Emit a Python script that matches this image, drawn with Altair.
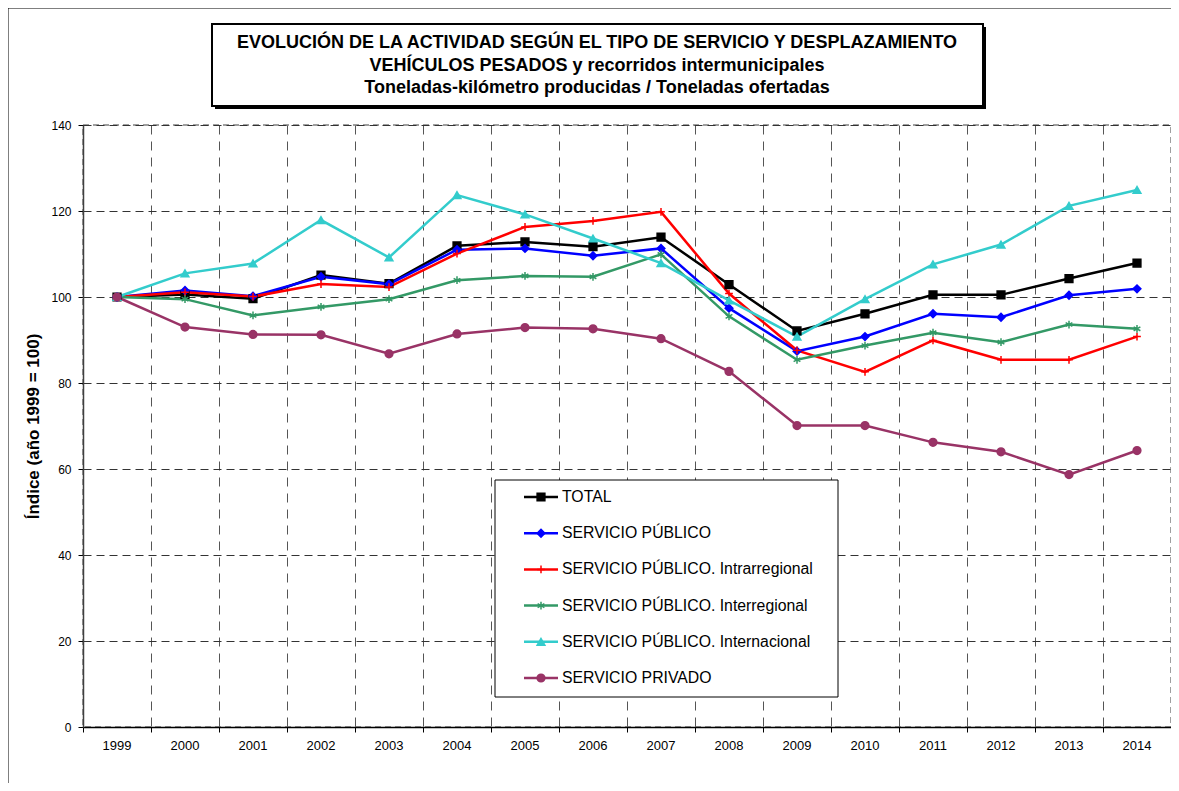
import altair as alt
import pandas as pd

years = [str(y) for y in range(1999, 2015)]
series_names = [
    "TOTAL",
    "SERVICIO PÚBLICO",
    "SERVICIO PÚBLICO. Intrarregional",
    "SERVICIO PÚBLICO. Interregional",
    "SERVICIO PÚBLICO. Internacional",
    "SERVICIO PRIVADO",
]
total = [100, 100.6, 99.6, 105.1, 103.1, 111.9, 112.8, 111.7, 113.9, 102.9, 92.1, 96.1, 100.5, 100.5, 104.3, 107.9]
publico = [100, 101.5, 100.2, 104.7, 103.0, 111.0, 111.3, 109.6, 111.3, 97.4, 87.4, 90.8, 96.1, 95.3, 100.4, 101.9]
intrarregional = [100, 101.1, 100.1, 103.0, 102.3, 110.1, 116.3, 117.7, 119.8, 100.8, 87.6, 82.6, 89.9, 85.4, 85.4, 90.8]
interregional = [100, 99.5, 95.7, 97.7, 99.5, 103.9, 104.9, 104.7, 109.9, 95.5, 85.4, 88.7, 91.7, 89.5, 93.6, 92.6]
internacional = [100, 105.5, 107.8, 117.9, 109.2, 123.7, 119.2, 113.6, 107.9, 99.2, 90.8, 99.5, 107.6, 112.2, 121.2, 124.9]
privado = [100, 93.0, 91.3, 91.2, 86.8, 91.4, 92.9, 92.6, 90.3, 82.7, 70.1, 70.1, 66.2, 64.0, 58.7, 64.3]

series_colors = ["#000000", "#0000FF", "#FF0000", "#339966", "#33CCCC", "#993366"]
series_shapes = [
    "square",
    "diamond",
    "M-1,0H1M0,-1V1",
    "M0,-1V1M-0.87,-0.5L0.87,0.5M-0.87,0.5L0.87,-0.5",
    "triangle-up",
    "circle",
]
title_lines = [
    "EVOLUCIÓN DE LA ACTIVIDAD SEGÚN EL TIPO DE SERVICIO Y DESPLAZAMIENTO",
    "VEHÍCULOS PESADOS y recorridos intermunicipales",
    "Toneladas-kilómetro producidas / Toneladas ofertadas",
]
y_title = "Índice (año 1999 = 100)"
y_ticks = [0, 20, 40, 60, 80, 100, 120, 140]

all_values = [total, publico, intrarregional, interregional, internacional, privado]
rows = []
for k, (name, vals) in enumerate(zip(series_names, all_values)):
    for yr, v in zip(years, vals):
        rows.append({"year": yr, "value": v, "series": name, "k": k})
df = pd.DataFrame(rows)

W, H = 1088, 602
FONT = "Liberation Sans"

color_scale = alt.Scale(domain=series_names, range=series_colors)
shape_scale = alt.Scale(domain=series_names, range=series_shapes)
x_scale = alt.Scale(type="band", domain=years, paddingInner=0, paddingOuter=0)
y_scale = alt.Scale(domain=[0, 140])

x_axis = alt.Axis(
    bandPosition=0, labelAngle=0, tickSize=5,
    grid=True, gridDash=[9, 7], gridColor="#555555", gridWidth=1,
    domainColor="#000000", domainWidth=1.5, tickColor="#000000",
    labelFontSize=13, labelPadding=7, labelColor="#000000",
)
y_axis = alt.Axis(
    values=y_ticks, tickSize=5, labelPadding=7, labelFontSize=12, labelColor="#000000",
    grid=True, gridDash=[8, 5], gridColor="#333333", gridWidth=1,
    domainColor="#404040", domainWidth=1.5, tickColor="#000000",
    titleFontSize=17, titleFontWeight="bold", titleColor="#000000",
    titleAngle=270, titleX=-50, titleY=H / 2, titleAlign="center", titleBaseline="middle",
)

one = pd.DataFrame({"a": [0]})

frame = alt.Chart(one).mark_rect(filled=False, stroke="#000000", strokeWidth=1).encode(
    x=alt.value(-75), x2=alt.value(W + 60), y=alt.value(-117), y2=alt.value(H + 120)
)
shadow = alt.Chart(one).mark_rect(color="#000000").encode(
    x=alt.value(132), x2=alt.value(903), y=alt.value(-98), y2=alt.value(-16)
)
title_box = alt.Chart(one).mark_rect(fill="#FFFFFF", stroke="#000000", strokeWidth=2).encode(
    x=alt.value(129), x2=alt.value(900), y=alt.value(-101), y2=alt.value(-19)
)
title_ys = [-82, -59, -37]
title_texts = [
    alt.Chart(pd.DataFrame({"t": [line]})).mark_text(
        font=FONT, fontSize=18, fontWeight="bold", align="center", baseline="middle", color="#000000"
    ).encode(x=alt.value(514), y=alt.value(ty), text="t:N")
    for line, ty in zip(title_lines, title_ys)
]

lines = alt.Chart(df).mark_line(strokeWidth=2.5).encode(
    x=alt.X("year:O", scale=x_scale, bandPosition=0.5, axis=x_axis, title=None),
    y=alt.Y("value:Q", scale=y_scale, axis=y_axis, title=y_title),
    color=alt.Color("series:N", scale=color_scale, legend=None),
    detail="k:O",
)
points = alt.Chart(df).mark_point(filled=True, size=60, strokeWidth=1.5, opacity=1).encode(
    x=alt.X("year:O", scale=x_scale, bandPosition=0.5, axis=x_axis, title=None),
    y=alt.Y("value:Q", scale=y_scale, axis=None),
    color=alt.Color("series:N", scale=color_scale, legend=None),
    stroke=alt.Stroke("series:N", scale=color_scale, legend=None),
    shape=alt.Shape("series:N", scale=shape_scale, legend=None),
)

leg_df = pd.DataFrame({"series": series_names})
leg_y = alt.Y("series:N", scale=alt.Scale(type="point", domain=series_names, range=[372, 553], padding=0), axis=None)
leg_box = alt.Chart(one).mark_rect(fill="#FFFFFF", stroke="#000000", strokeWidth=1).encode(
    x=alt.value(412), x2=alt.value(755), y=alt.value(355), y2=alt.value(572)
)
leg_rule = alt.Chart(leg_df).mark_rule(strokeWidth=2.5).encode(
    x=alt.value(441), x2=alt.value(475), y=leg_y,
    color=alt.Color("series:N", scale=color_scale, legend=None),
)
leg_point = alt.Chart(leg_df).mark_point(filled=True, size=60, strokeWidth=1.5, opacity=1).encode(
    x=alt.value(458), y=leg_y,
    color=alt.Color("series:N", scale=color_scale, legend=None),
    stroke=alt.Stroke("series:N", scale=color_scale, legend=None),
    shape=alt.Shape("series:N", scale=shape_scale, legend=None),
)
leg_text = alt.Chart(leg_df).mark_text(
    font=FONT, fontSize=15.8, align="left", baseline="middle", color="#000000"
).encode(x=alt.value(479), y=leg_y, text="series:N")

chart = alt.layer(
    frame, shadow, title_box, *title_texts, lines, points, leg_box, leg_rule, leg_point, leg_text
).resolve_scale(y="independent").properties(
    width=W, height=H,
    autosize=alt.AutoSizeParams(type="none"),
    padding={"left": 75, "top": 117, "right": 0, "bottom": 56},
).configure(
    background="#FFFFFF",
    font=FONT,
).configure_view(
    stroke="#808080", strokeDash=[6, 4], strokeWidth=1.5
).configure_axis(
    labelFont=FONT, titleFont=FONT
)

chart.save("out.html", embed_options={"renderer": "svg", "actions": False})
